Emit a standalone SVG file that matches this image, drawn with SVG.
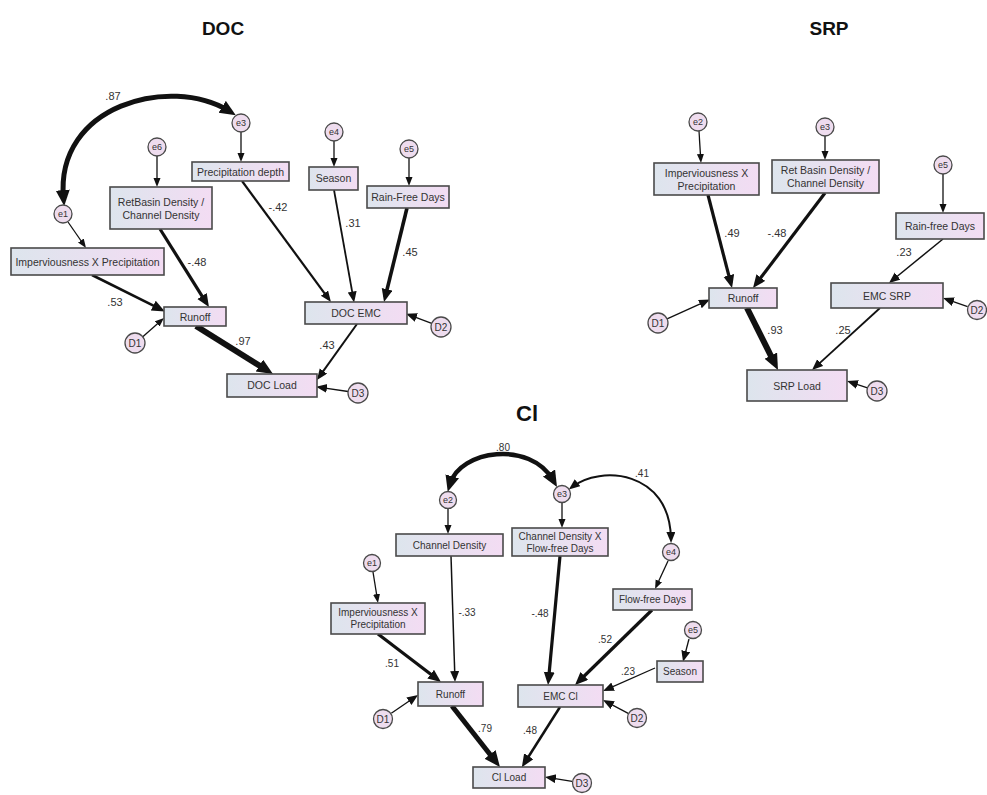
<svg xmlns="http://www.w3.org/2000/svg" width="987" height="795" viewBox="0 0 987 795">
<defs>
<linearGradient id="bg" x1="0" y1="0" x2="1" y2="0">
<stop offset="0" stop-color="#dde5ed"/>
<stop offset="1" stop-color="#f3dcf3"/>
</linearGradient>
<marker id="m1" markerUnits="userSpaceOnUse" markerWidth="10" markerHeight="8" refX="6" refY="3.5" orient="auto-start-reverse"><path d="M0,0 L9,3.5 L0,7 z" fill="#111"/></marker>
<marker id="m2" markerUnits="userSpaceOnUse" markerWidth="12" markerHeight="10" refX="7" refY="4.5" orient="auto-start-reverse"><path d="M0,0 L11,4.5 L0,9 z" fill="#111"/></marker>
<marker id="m3" markerUnits="userSpaceOnUse" markerWidth="14" markerHeight="12" refX="8" refY="5.5" orient="auto-start-reverse"><path d="M0,0 L13,5.5 L0,11 z" fill="#111"/></marker>
<marker id="m4" markerUnits="userSpaceOnUse" markerWidth="17" markerHeight="15" refX="8" refY="7" orient="auto-start-reverse"><path d="M0,0 L16,7 L0,14 z" fill="#111"/></marker>
</defs>
<style>
.box{fill:url(#bg);stroke:#4a4a4a;stroke-width:1.6}
.cir{fill:#eedcee;stroke:#4a4a4a;stroke-width:1.3}
.t{font-family:"Liberation Sans",Arial,sans-serif;font-size:10.5px;fill:#333;text-anchor:middle}
.ct{font-family:"Liberation Sans",Arial,sans-serif;font-size:9px;fill:#333;text-anchor:middle}
.lb{font-family:"Liberation Sans",Arial,sans-serif;font-size:11px;fill:#333}
.title{font-family:"Liberation Sans",Arial,sans-serif;font-size:19px;font-weight:bold;fill:#111;text-anchor:middle}
.c{fill:none;stroke:#111}
.w1{stroke-width:1.3;marker-end:url(#m1)}
.w2{stroke-width:1.8;marker-end:url(#m2)}
.w3{stroke-width:3.2;marker-end:url(#m3)}
.w4{stroke-width:5.5;marker-end:url(#m4)}
</style>
<rect width="987" height="795" fill="#fff"/>
<text class="title" x="223" y="35">DOC</text>
<text class="title" x="829" y="35">SRP</text>
<text class="title" x="527" y="421" style="font-size:22px">Cl</text>

<g id="connectors">
<!-- DOC -->
<path class="c" d="M63.5,198 C55,105 170,75 229,111" stroke-width="5" marker-start="url(#m4)" marker-end="url(#m4)"/>
<line class="c w1" x1="241" y1="132" x2="241" y2="159"/>
<line class="c w1" x1="157" y1="156" x2="157" y2="184"/>
<line class="c w1" x1="334" y1="141" x2="334" y2="164"/>
<line class="c w1" x1="409" y1="158" x2="409" y2="183"/>
<line class="c w1" x1="68" y1="222" x2="84.3" y2="245.5"/>
<line class="c w3" x1="92" y1="275" x2="160.4" y2="309.2" style="stroke-width:2.6"/>
<line class="c w3" x1="160" y1="229" x2="206.3" y2="302.8"/>
<line class="c w1" x1="142.8" y1="336.7" x2="161.7" y2="319.9"/>
<line class="c w4" x1="196" y1="326" x2="266.2" y2="369.8" style="stroke-width:6"/>
<line class="c w2" x1="242" y1="181" x2="328.6" y2="298.8" style="stroke-width:2.2"/>
<line class="c w2" x1="334" y1="190" x2="353.4" y2="298.6"/>
<line class="c w3" x1="407" y1="208" x2="385.2" y2="297.1" style="stroke-width:3.6"/>
<line class="c w2" x1="431.7" y1="323.4" x2="409.8" y2="315.1" style="stroke-width:1.3"/>
<line class="c w2" x1="357" y1="324" x2="319.3" y2="376.7" style="stroke-width:2"/>
<line class="c w2" x1="348.1" y1="391.5" x2="320" y2="387.4" style="stroke-width:1.3"/>
<!-- SRP -->
<line class="c w1" x1="699" y1="131" x2="700.8" y2="160"/>
<line class="c w1" x1="825" y1="136" x2="825" y2="157"/>
<line class="c w1" x1="943" y1="174" x2="943" y2="210"/>
<line class="c w3" x1="708" y1="195" x2="730.8" y2="283.2"/>
<line class="c w3" x1="825" y1="193" x2="756" y2="284"/>
<line class="c w2" x1="667.1" y1="318.9" x2="706.3" y2="301.2" style="stroke-width:1.3"/>
<line class="c w4" x1="747" y1="308" x2="774.4" y2="362.8" style="stroke-width:6"/>
<line class="c w2" x1="943" y1="239" x2="892.1" y2="280.5" style="stroke-width:1.5"/>
<line class="c w2" x1="880" y1="308" x2="815" y2="367.3"/>
<line class="c w2" x1="967.6" y1="306.7" x2="946.8" y2="299.3" style="stroke-width:1.3"/>
<line class="c w2" x1="867.5" y1="387.8" x2="850.8" y2="382.3" style="stroke-width:1.3"/>
<!-- Cl -->
<path class="c" d="M450,484 C460,450 530,440 553,480" stroke-width="4.5" marker-start="url(#m4)" marker-end="url(#m4)"/>
<path class="c" d="M572,487 C600,465 670,470 671,539" stroke-width="2" marker-start="url(#m2)" marker-end="url(#m2)"/>
<line class="c w1" x1="448" y1="509" x2="448" y2="531"/>
<line class="c w1" x1="562" y1="503" x2="562" y2="525"/>
<line class="c w1" x1="668" y1="561" x2="656.3" y2="586.3"/>
<line class="c w1" x1="373" y1="572" x2="377.5" y2="600"/>
<line class="c w2" x1="689" y1="639" x2="684" y2="658" style="stroke-width:1.3"/>
<line class="c w2" x1="451" y1="556" x2="454.9" y2="678" style="stroke-width:1.5"/>
<line class="c w3" x1="560" y1="556" x2="548.5" y2="680"/>
<line class="c w3" x1="652" y1="610" x2="578.6" y2="681.5"/>
<line class="c w2" x1="655" y1="668" x2="606.7" y2="689.4" style="stroke-width:1.3"/>
<line class="c w3" x1="378" y1="634" x2="437" y2="679"/>
<line class="c w2" x1="391.3" y1="713.3" x2="414.7" y2="697.3" style="stroke-width:1.3"/>
<line class="c w2" x1="628.2" y1="713.3" x2="606.5" y2="701.9" style="stroke-width:1.3"/>
<line class="c w4" x1="452" y1="706" x2="495" y2="760.7" style="stroke-width:5"/>
<line class="c w3" x1="560" y1="707" x2="524.5" y2="763" style="stroke-width:2.5"/>
<line class="c w2" x1="572.1" y1="781.4" x2="548.9" y2="777.6" style="stroke-width:1.3"/>
</g>

<g id="labels">
<text class="lb" x="113" y="100" text-anchor="middle">.87</text>
<text class="lb" x="197" y="266" text-anchor="middle">-.48</text>
<text class="lb" x="278" y="211" text-anchor="middle">-.42</text>
<text class="lb" x="353" y="227" text-anchor="middle">.31</text>
<text class="lb" x="410" y="256" text-anchor="middle">.45</text>
<text class="lb" x="115" y="306" text-anchor="middle">.53</text>
<text class="lb" x="243" y="345" text-anchor="middle">.97</text>
<text class="lb" x="327" y="349" text-anchor="middle">.43</text>
<text class="lb" x="732" y="237" text-anchor="middle">.49</text>
<text class="lb" x="777" y="237" text-anchor="middle">-.48</text>
<text class="lb" x="904" y="256" text-anchor="middle">.23</text>
<text class="lb" x="843" y="334" text-anchor="middle">.25</text>
<text class="lb" x="775" y="334" text-anchor="middle">.93</text>
<text class="lb" x="503" y="451" text-anchor="middle" style="font-size:10px">.80</text>
<text class="lb" x="642" y="477" text-anchor="middle" style="font-size:10px">.41</text>
<text class="lb" x="467" y="616" text-anchor="middle" style="font-size:10px">-.33</text>
<text class="lb" x="540" y="617" text-anchor="middle" style="font-size:10px">-.48</text>
<text class="lb" x="605" y="643" text-anchor="middle" style="font-size:10px">.52</text>
<text class="lb" x="628" y="675" text-anchor="middle" style="font-size:10px">.23</text>
<text class="lb" x="392" y="667" text-anchor="middle" style="font-size:10px">.51</text>
<text class="lb" x="485" y="732" text-anchor="middle" style="font-size:10px">.79</text>
<text class="lb" x="530" y="734" text-anchor="middle" style="font-size:10px">.48</text>
</g>

<!-- DOC nodes -->
<g id="doc-e1"><circle class="cir" cx="63" cy="214" r="9"/><text class="ct" x="63" y="217">e1</text></g>
<g id="doc-e3"><circle class="cir" cx="241" cy="123" r="9"/><text class="ct" x="241" y="126">e3</text></g>
<g id="doc-e6"><circle class="cir" cx="157" cy="147" r="9"/><text class="ct" x="157" y="150">e6</text></g>
<g id="doc-e4"><circle class="cir" cx="334" cy="132" r="9"/><text class="ct" x="334" y="135">e4</text></g>
<g id="doc-e5"><circle class="cir" cx="409" cy="149" r="9"/><text class="ct" x="409" y="152">e5</text></g>
<g id="doc-d1"><circle class="cir" cx="135" cy="343" r="10"/><text class="ct" x="135" y="346.5" style="font-size:10px">D1</text></g>
<g id="doc-d2"><circle class="cir" cx="441" cy="327" r="10"/><text class="ct" x="441" y="330.5" style="font-size:10px">D2</text></g>
<g id="doc-d3"><circle class="cir" cx="358" cy="393" r="10"/><text class="ct" x="358" y="396.5" style="font-size:10px">D3</text></g>
<g id="doc-imperv"><rect class="box" x="11" y="248" width="153" height="27"/><text class="t" x="87.5" y="265.5">Imperviousness X Precipitation</text></g>
<g id="doc-retbasin"><rect class="box" x="110" y="187" width="102" height="42"/><text class="t" x="161" y="206">RetBasin Density /</text><text class="t" x="161" y="219">Channel Density</text></g>
<g id="doc-precip"><rect class="box" x="192" y="162" width="97" height="19"/><text class="t" x="240.5" y="175.5">Precipitation depth</text></g>
<g id="doc-season"><rect class="box" x="309" y="167" width="49" height="23"/><text class="t" x="333.5" y="182">Season</text></g>
<g id="doc-rainfree"><rect class="box" x="367" y="186" width="82" height="22"/><text class="t" x="408" y="201">Rain-Free Days</text></g>
<g id="doc-runoff"><rect class="box" x="164" y="307" width="62" height="19"/><text class="t" x="195" y="320.5">Runoff</text></g>
<g id="doc-emc"><rect class="box" x="305" y="302" width="102" height="22"/><text class="t" x="356" y="317">DOC EMC</text></g>
<g id="doc-load"><rect class="box" x="227" y="374" width="90" height="23"/><text class="t" x="272" y="389">DOC Load</text></g>

<!-- SRP nodes -->
<g id="srp-e2"><circle class="cir" cx="698" cy="122" r="9"/><text class="ct" x="698" y="125">e2</text></g>
<g id="srp-e3"><circle class="cir" cx="825" cy="127" r="9"/><text class="ct" x="825" y="130">e3</text></g>
<g id="srp-e5"><circle class="cir" cx="943" cy="165" r="9"/><text class="ct" x="943" y="168">e5</text></g>
<g id="srp-d1"><circle class="cir" cx="658" cy="323" r="10"/><text class="ct" x="658" y="326.5" style="font-size:10px">D1</text></g>
<g id="srp-d2"><circle class="cir" cx="977" cy="310" r="9.5"/><text class="ct" x="977" y="313.5" style="font-size:10px">D2</text></g>
<g id="srp-d3"><circle class="cir" cx="877" cy="391" r="10"/><text class="ct" x="877" y="394.5" style="font-size:10px">D3</text></g>
<g id="srp-imperv"><rect class="box" x="654" y="163" width="105" height="32"/><text class="t" x="706.5" y="177">Imperviousness X</text><text class="t" x="706.5" y="190">Precipitation</text></g>
<g id="srp-retbasin"><rect class="box" x="772" y="160" width="107" height="33"/><text class="t" x="825.5" y="174">Ret Basin Density /</text><text class="t" x="825.5" y="187">Channel Density</text></g>
<g id="srp-rainfree"><rect class="box" x="896" y="213" width="88" height="26"/><text class="t" x="940" y="230">Rain-free Days</text></g>
<g id="srp-runoff"><rect class="box" x="709" y="288" width="68" height="20"/><text class="t" x="743" y="302">Runoff</text></g>
<g id="srp-emc"><rect class="box" x="831" y="283" width="112" height="25"/><text class="t" x="887" y="299.5">EMC SRP</text></g>
<g id="srp-load"><rect class="box" x="747" y="370" width="100" height="31"/><text class="t" x="797" y="389.5">SRP Load</text></g>

<!-- Cl nodes -->
<g id="cl-e1"><circle class="cir" cx="372" cy="563" r="8.5"/><text class="ct" x="372" y="566">e1</text></g>
<g id="cl-e2"><circle class="cir" cx="448" cy="500" r="8.5"/><text class="ct" x="448" y="503">e2</text></g>
<g id="cl-e3"><circle class="cir" cx="562" cy="494" r="8.5"/><text class="ct" x="562" y="497">e3</text></g>
<g id="cl-e4"><circle class="cir" cx="671" cy="552" r="8.5"/><text class="ct" x="671" y="555">e4</text></g>
<g id="cl-e5"><circle class="cir" cx="693" cy="630" r="8.5"/><text class="ct" x="693" y="633">e5</text></g>
<g id="cl-d1"><circle class="cir" cx="383" cy="719" r="9.5"/><text class="ct" x="383" y="722.5" style="font-size:10px">D1</text></g>
<g id="cl-d2"><circle class="cir" cx="637" cy="718" r="9.5"/><text class="ct" x="637" y="721.5" style="font-size:10px">D2</text></g>
<g id="cl-d3"><circle class="cir" cx="582" cy="783" r="9.5"/><text class="ct" x="582" y="786.5" style="font-size:10px">D3</text></g>
<g id="cl-chd"><rect class="box" x="396" y="534" width="107" height="22"/><text class="t" x="449.5" y="548.5" style="font-size:10px">Channel Density</text></g>
<g id="cl-chdffd"><rect class="box" x="512" y="528" width="96" height="28"/><text class="t" x="560" y="540" style="font-size:10px">Channel Density X</text><text class="t" x="560" y="552" style="font-size:10px">Flow-free Days</text></g>
<g id="cl-ffd"><rect class="box" x="613" y="589" width="79" height="21"/><text class="t" x="652.5" y="603" style="font-size:10px">Flow-free Days</text></g>
<g id="cl-imperv"><rect class="box" x="331" y="603" width="94" height="31"/><text class="t" x="378" y="616" style="font-size:10px">Imperviousness X</text><text class="t" x="378" y="628" style="font-size:10px">Precipitation</text></g>
<g id="cl-season"><rect class="box" x="657" y="661" width="46" height="21"/><text class="t" x="680" y="675" style="font-size:10px">Season</text></g>
<g id="cl-runoff"><rect class="box" x="418" y="682" width="65" height="24"/><text class="t" x="450.5" y="697.5" style="font-size:10px">Runoff</text></g>
<g id="cl-emc"><rect class="box" x="518" y="685" width="85" height="22"/><text class="t" x="560.5" y="699.5" style="font-size:10px">EMC Cl</text></g>
<g id="cl-load"><rect class="box" x="473" y="767" width="72" height="21"/><text class="t" x="509" y="781" style="font-size:10px">Cl Load</text></g>
</svg>
